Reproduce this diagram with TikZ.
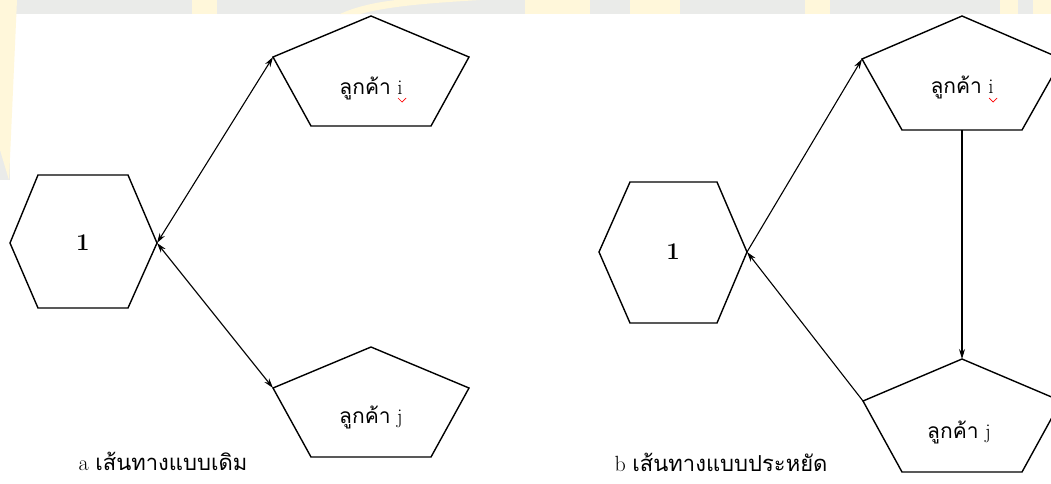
\documentclass[tikz,border=0pt]{standalone}
\usepackage{fontspec}
\newfontfamily\thaifont[Script=Thai]{Loma}
\usetikzlibrary{arrows.meta}
\definecolor{wmgray}{HTML}{EAEBE9}
\definecolor{wmyellow}{HTML}{FFF7DA}
\begin{document}
\begin{tikzpicture}[x=1pt,y=-1pt,
  outline/.style={draw=black, line width=1.4pt, line join=miter},
  conn/.style={line width=1.1pt, -{Stealth[length=10pt,width=6pt]}},
  conntwo/.style={line width=1.1pt, {Stealth[length=10pt,width=6pt]}-{Stealth[length=10pt,width=6pt]}},
  lbl/.style={inner sep=0pt, font=\fontsize{21}{24}\selectfont},
  captext/.style={inner sep=0pt, font=\fontsize{22}{25}\selectfont},
  num/.style={inner sep=0pt, font=\fontsize{24}{28}\selectfont\bfseries},
  squiggle/.style={draw=red, line width=0.7pt}]
\useasboundingbox (0,0) rectangle (1051,483);
\clip (0,0) rectangle (1051,483);
% watermark background
\fill[white] (0,0) rectangle (1051,483);
\fill[wmgray] (0,0) rectangle (1051,14);
\fill[wmgray] (0,0) rectangle (10,180);
\fill[wmyellow] (0,0) -- (17,0) -- (9,180) -- (0,150) -- cycle;
\fill[wmyellow] (192,0) rectangle (217,14);
\fill[wmyellow] (340,14) .. controls (370,0) and (420,-5) .. (470,0) -- (480,0) .. controls (430,3) and (390,6) .. (360,14) -- cycle;
\fill[wmyellow] (525,0) rectangle (590,14);
\fill[wmyellow] (630,0) rectangle (680,14);
\fill[wmyellow] (805,0) rectangle (830,14);
\fill[wmyellow] (1000,0) rectangle (1018,14);
\fill[wmyellow] (1033,0) rectangle (1051,14);
% ---------- left diagram ----------
\coordinate (hAl) at (10,243);
\coordinate (hAtl) at (38,175);
\coordinate (hAtr) at (128,175);
\coordinate (hAr) at (157,243);
\coordinate (hAbr) at (128,308);
\coordinate (hAbl) at (38,308);
\draw[outline] (hAl) -- (hAtl) -- (hAtr) -- (hAr) -- (hAbr) -- (hAbl) -- cycle;
\node[num] (depotA) at (83,243) {1};

\coordinate (piAa) at (371,16);
\coordinate (piAl) at (273,57);
\coordinate (piAr) at (469,57);
\coordinate (piAbr) at (431,126);
\coordinate (piAbl) at (311,126);
\draw[outline] (piAa) -- (piAr) -- (piAbr) -- (piAbl) -- (piAl) -- cycle;
\node[lbl] (custiA) at (371,88) {\thaifont ลูกค้า\rmfamily\ i};
\draw[squiggle] (398,98) -- (402,102) -- (406,98);

\coordinate (pjAa) at (371,347);
\coordinate (pjAl) at (273,388);
\coordinate (pjAr) at (469,388);
\coordinate (pjAbr) at (431,457);
\coordinate (pjAbl) at (311,457);
\draw[outline] (pjAa) -- (pjAr) -- (pjAbr) -- (pjAbl) -- (pjAl) -- cycle;
\node[lbl] (custjA) at (371,417) {\thaifont ลูกค้า\rmfamily\ j};

\draw[conntwo] (hAr) -- (piAl);
\draw[conntwo] (hAr) -- (pjAl);

\node[captext] (capA) at (163,461) {\rmfamily a \thaifont เส้นทางแบบเดิม};

% ---------- right diagram ----------
\coordinate (hBl) at (599,252);
\coordinate (hBtl) at (630,182);
\coordinate (hBtr) at (717,182);
\coordinate (hBr) at (747,252);
\coordinate (hBbr) at (717,323);
\coordinate (hBbl) at (630,323);
\draw[outline] (hBl) -- (hBtl) -- (hBtr) -- (hBr) -- (hBbr) -- (hBbl) -- cycle;
\node[num] (depotB) at (673,252) {1};

\coordinate (piBa) at (962,16);
\coordinate (piBl) at (862,59);
\coordinate (piBr) at (1062,59);
\coordinate (piBbr) at (1022,130);
\coordinate (piBbl) at (902,130);
\coordinate (piBb) at (962,130);
\draw[outline] (piBa) -- (piBr) -- (piBbr) -- (piBbl) -- (piBl) -- cycle;
\node[lbl] (custiB) at (962,87) {\thaifont ลูกค้า\rmfamily\ i};
\draw[squiggle] (989,98) -- (993,102) -- (997,98);

\coordinate (pjBa) at (962,359);
\coordinate (pjBl) at (863,401);
\coordinate (pjBr) at (1061,401);
\coordinate (pjBbr) at (1022,472);
\coordinate (pjBbl) at (902,472);
\draw[outline] (pjBa) -- (pjBr) -- (pjBbr) -- (pjBbl) -- (pjBl) -- cycle;
\node[lbl] (custjB) at (959,432) {\thaifont ลูกค้า\rmfamily\ j};

\draw[conn] (hBr) -- (piBl);
\draw[conn] (piBb) -- (pjBa);
\draw[conn] (pjBl) -- (hBr);

\node[captext] (capB) at (721,462) {\rmfamily b \thaifont เส้นทางแบบประหยัด};
\end{tikzpicture}
\end{document}
